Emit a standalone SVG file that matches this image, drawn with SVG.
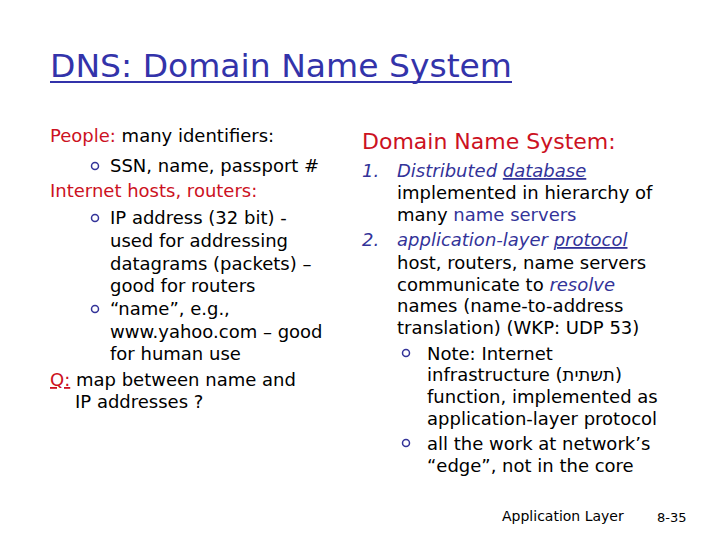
<svg xmlns="http://www.w3.org/2000/svg" width="720" height="540" viewBox="0 0 720 540">
<style>
text{font-family:"DejaVu Sans","Noto Sans",sans-serif;fill:#000}
.t{font-size:18px}
.r{fill:#CC1122}
.b{fill:#333399}
.i{font-style:italic}
.u{text-decoration:underline}
.bul{fill:none;stroke:#333399;stroke-width:1.5}
</style>
<rect width="720" height="540" fill="#fff"/>
<g id="title"><text x="50" y="77" font-size="32" fill="#3333AA" style="fill:#3333AA" textLength="462" lengthAdjust="spacingAndGlyphs">DNS: Domain Name System</text>
<rect x="50" y="81" width="462" height="2" fill="#3333AA"/></g>
<g id="left" class="t">
<text x="50" y="142" class="t"><tspan class="r">People:</tspan> many identifiers:</text>
<circle class="bul" cx="95" cy="166" r="3.5"/>
<text x="110" y="172" class="t">SSN, name, passport #</text>
<text x="50" y="197" class="t r">Internet hosts, routers:</text>
<circle class="bul" cx="95" cy="218" r="3.5"/>
<text x="110" y="224" class="t">IP address (32 bit) -</text>
<text x="110" y="247" class="t">used for addressing</text>
<text x="110" y="270" class="t">datagrams (packets) –</text>
<text x="110" y="292" class="t">good for routers</text>
<circle class="bul" cx="95" cy="309" r="3.5"/>
<text x="110" y="315" class="t">“name”, e.g.,</text>
<text x="110" y="338" class="t">www.yahoo.com – good</text>
<text x="110" y="360" class="t">for human use</text>
<text x="50" y="386" class="t"><tspan class="r u">Q:</tspan> map between name and</text>
<text x="75" y="408" class="t">IP addresses ?</text>
</g>
<g id="right">
<text x="362" y="149" font-size="22" class="r">Domain Name System:</text>
<text x="362" y="177" class="t b i">1.</text>
<text x="397" y="177" class="t b i">Distributed <tspan class="u">database</tspan></text>
<text x="397" y="199" class="t">implemented in hierarchy of</text>
<text x="397" y="221" class="t">many <tspan class="b">name servers</tspan></text>
<text x="362" y="246" class="t b i">2.</text>
<text x="397" y="246" class="t b i">application-layer <tspan class="u">protocol</tspan></text>
<text x="397" y="269" class="t">host, routers, name servers</text>
<text x="397" y="291" class="t">communicate to <tspan class="b i">resolve</tspan></text>
<text x="397" y="312" class="t">names (name-to-address</text>
<text x="397" y="334" class="t">translation) (WKP: UDP 53)</text>
<circle class="bul" cx="406" cy="353" r="3.5"/>
<text x="427" y="360" class="t">Note: Internet</text>
<text x="427" y="381" class="t">infrastructure (תשתית)</text>
<text x="427" y="403" class="t">function, implemented as</text>
<text x="427" y="425" class="t">application-layer protocol</text>
<circle class="bul" cx="406" cy="443" r="3.5"/>
<text x="427" y="450" class="t">all the work at network’s</text>
<text x="427" y="472" class="t">“edge”, not in the core</text>
</g>
<g id="footer">
<text x="502" y="521" font-size="14">Application Layer</text>
<text x="657" y="522" font-size="13">8-35</text>
</g>
</svg>
